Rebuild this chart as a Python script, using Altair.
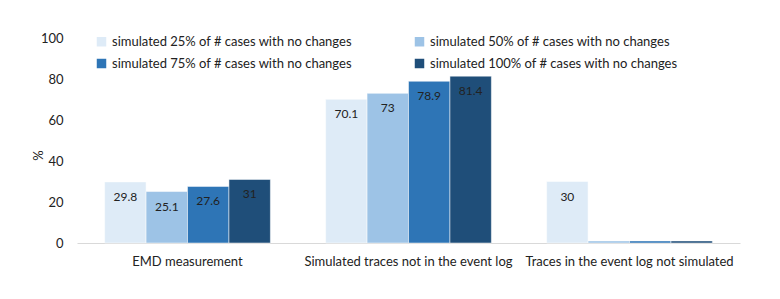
import altair as alt
import pandas as pd

categories = ["EMD measurement", "Simulated traces not in the event log", "Traces in the event log not simulated"]
series = ["simulated 25% of # cases with no changes", "simulated 50% of # cases with no changes",
          "simulated 75% of # cases with no changes", "simulated 100% of # cases with no changes"]
values = {
    series[0]: [29.8, 70.1, 30],
    series[1]: [25.1, 73, 1],
    series[2]: [27.6, 78.9, 1],
    series[3]: [31, 81.4, 1],
}
labels = {
    series[0]: ["29.8", "70.1", "30"],
    series[1]: ["25.1", "73", ""],
    series[2]: ["27.6", "78.9", ""],
    series[3]: ["31", "81.4", ""],
}
colors = ["#DEEBF7", "#9DC3E6", "#2E75B6", "#1F4E79"]

# legend order (fills column-wise): 25%, 75% | 50%, 100%
legend_order = [series[0], series[2], series[1], series[3]]
legend_colors = [colors[0], colors[2], colors[1], colors[3]]

rows = []
for s in series:
    for i, c in enumerate(categories):
        rows.append({"category": c, "series": s, "value": values[s][i], "label": labels[s][i]})
df = pd.DataFrame(rows)

FONT = "Lato"

x = alt.X("category:N", sort=categories, title=None,
          scale=alt.Scale(paddingInner=0.25, paddingOuter=0.125),
          axis=alt.Axis(labelAngle=0, labelFontSize=13, labelColor="#222", labelPadding=12,
                        labelLimit=400, ticks=False, domainColor="#D9D9D9", labelFont=FONT))
xo = alt.XOffset("series:N", sort=series, scale=alt.Scale(paddingInner=0, paddingOuter=0))
y = alt.Y("value:Q", scale=alt.Scale(domain=[0, 100]), title="%",
          axis=alt.Axis(values=[0, 20, 40, 60, 80, 100], grid=False, domain=False, ticks=False,
                        labelFontSize=13, labelColor="#222", labelPadding=14, labelFont=FONT,
                        titleFont=FONT, titleFontSize=13, titleFontWeight="normal", titleColor="#222",
                        titlePadding=-5, titleY=117))

bars = alt.Chart(df).mark_bar(stroke="white", strokeWidth=0.5).encode(
    x=x, xOffset=xo, y=y,
    color=alt.Color("series:N", scale=alt.Scale(domain=legend_order, range=legend_colors),
                    legend=alt.Legend(title=None, orient="none", legendX=18, legendY=-3,
                                      columns=2, columnPadding=60, rowPadding=8,
                                      symbolType="square", symbolSize=90, symbolStrokeWidth=0,
                                      labelFontSize=13, labelFont=FONT, labelColor="#222",
                                      labelLimit=400))
)

text = alt.Chart(df).mark_text(baseline="middle", dy=15, fontSize=12, font=FONT, color="#222").encode(
    x=x, xOffset=xo, y=y, text="label:N"
)

chart = alt.layer(bars, text).properties(
    width=663, height=205,
    background="white",
    autosize=alt.AutoSizeParams(type="none"),
    padding={"left": 69, "top": 30, "right": 32, "bottom": 48},
).configure_view(stroke=None)

chart.save("out.html", embed_options={"renderer": "svg", "actions": False})
